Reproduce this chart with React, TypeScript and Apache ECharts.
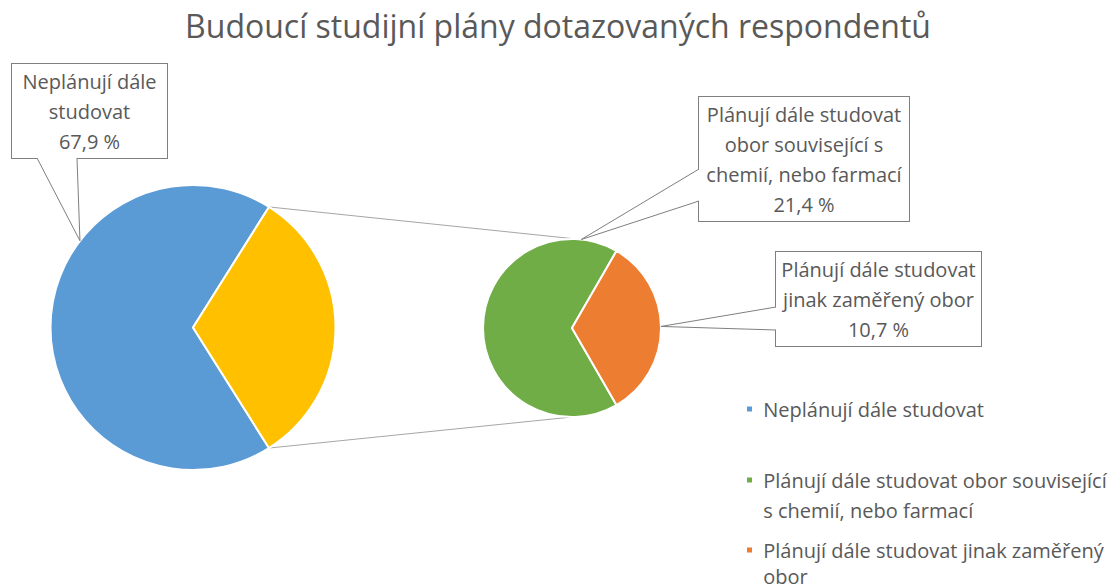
import React, { useEffect, useRef } from "react";
import * as echarts from "echarts";

const TITLE = "Budoucí studijní plány dotazovaných respondentů";

// main pie
const mainNames = ["Neplánují dále studovat", "Plánují dále studovat"];
// secondary pie (breakdown of "Plánují dále studovat")
const subNames = [
  "Plánují dále studovat obor související s chemií, nebo farmací",
  "Plánují dále studovat jinak zaměřený obor",
];
const mainValue = [67.9];
const subValues = [21.4, 10.7];

// label texts (line breaks as in the reference)
const mainLabelText = ["Neplánují dále\nstudovat"];
const subLabelText = [
  "Plánují dále studovat\nobor související s\nchemií, nebo farmací",
  "Plánují dále studovat\njinak zaměřený obor",
];
// legend texts
const legendText = [
  "Neplánují dále studovat",
  "Plánují dále studovat obor související\ns chemií, nebo farmací",
  "Plánují dále studovat jinak zaměřený\nobor",
];

const COLORS = {
  blue: "#5B9BD5",
  yellow: "#FFC000",
  green: "#70AD47",
  orange: "#ED7D31",
};
const TEXT = "#595959";
const FONT = "'Open Sans', Lato, sans-serif";
const FS = 20;

// geometry
const C1 = [193, 327.5];
const R1 = 142.5;
const C2 = [572, 328];
const R2 = 89;

const fmt = (v: number) => v.toFixed(1).replace(".", ",") + " %";

function pt(c: number[], r: number, deg: number): number[] {
  const a = (deg * Math.PI) / 180;
  return [c[0] + r * Math.cos(a), c[1] - r * Math.sin(a)];
}

export default function App() {
  const ref = useRef<HTMLDivElement>(null);
  useEffect(() => {
    if (!ref.current) return;
    const chart = echarts.init(ref.current, undefined, { renderer: "svg" });

    const otherValue = subValues.reduce((a, b) => a + b, 0);
    const total = mainValue[0] + otherValue;
    const b = mainValue[0] / total;
    const y = otherValue / total;
    const mainStart = 360 * b + 180 * y;
    const subTotal = otherValue;
    const g = subValues[0] / subTotal;
    const o = subValues[1] / subTotal;
    const subStart = 360 * g + 180 * o;

    const half = 180 * y;
    const splitTop = pt(C1, R1, half);
    const splitBot = pt(C1, R1, -half);
    const subTop = pt(C2, R2, 86);
    const subBot = pt(C2, R2, -90);

    const lineStyle = { stroke: "#A6A6A6", lineWidth: 1, fill: null };
    const calloutStyle = { stroke: "#7F7F7F", lineWidth: 1, fill: "#fff" };

    const mainBox = { x: 12, y: 64, w: 155 };
    const subBoxes = [
      { x: 699, y: 97, w: 210 },
      { x: 776, y: 252, w: 205 },
    ];

    const labelBase = {
      show: true,
      color: TEXT,
      fontFamily: FONT,
      fontSize: FS,
      lineHeight: 30,
      align: "center",
      backgroundColor: "#fff",
      borderColor: "#7F7F7F",
      borderWidth: 1,
      padding: [2, 0, 2, 0],
    };

    const legendBase = {
      orient: "vertical",
      left: 745,
      padding: 0,
      icon: "rect",
      itemWidth: 7,
      itemHeight: 7,
      selectedMode: false,
    };
    const legendTextStyle = (lh: number) => ({
      color: TEXT,
      fontFamily: FONT,
      fontSize: FS,
      lineHeight: lh,
    });

    chart.setOption({
      animation: false,
      backgroundColor: "#fff",
      title: {
        text: TITLE,
        left: "center",
        top: 4,
        textStyle: {
          color: TEXT,
          fontFamily: FONT,
          fontSize: 32,
          fontWeight: "normal",
        },
      },
      legend: [
        {
          ...legendBase,
          top: 394,
          data: [mainNames[0]],
          formatter: () => " " + legendText[0],
          textStyle: legendTextStyle(30),
        },
        {
          ...legendBase,
          top: 435,
          data: [subNames[0]],
          formatter: () => "\n " + legendText[1].replace("\n", "\n "),
          textStyle: legendTextStyle(30),
        },
        {
          ...legendBase,
          top: 511,
          data: [subNames[1]],
          formatter: () => "\n " + legendText[2].replace("\n", "\n "),
          textStyle: legendTextStyle(26),
        },
      ],
      graphic: [
        { type: "line", shape: { x1: splitTop[0], y1: splitTop[1], x2: subTop[0], y2: subTop[1] }, style: lineStyle, z: 1 },
        { type: "line", shape: { x1: splitBot[0], y1: splitBot[1], x2: subBot[0], y2: subBot[1] }, style: lineStyle, z: 1 },
        {
          type: "polyline",
          shape: { points: [[37, 158], pt(C1, R1, 142.5), [77, 158]] },
          style: calloutStyle,
          z: 100,
        },
        {
          type: "polyline",
          shape: { points: [[699, 169], pt(C2, R2, 84), [699, 201]] },
          style: calloutStyle,
          z: 100,
        },
        {
          type: "polyline",
          shape: { points: [[776, 307], pt(C2, R2, 1), [776, 330]] },
          style: calloutStyle,
          z: 100,
        },
      ],
      series: [
        {
          type: "pie",
          center: C1,
          radius: R1,
          startAngle: mainStart,
          clockwise: true,
          avoidLabelOverlap: false,
          itemStyle: { borderColor: "#fff", borderWidth: 2 },
          emphasis: { disabled: true },
          labelLine: { show: false },
          label: {
            ...labelBase,
            width: mainBox.w,
            formatter: (p: any) => mainLabelText[p.dataIndex] + "\n" + fmt(p.value),
          },
          labelLayout: (p: any) =>
            p.dataIndex === 0
              ? { x: mainBox.x + mainBox.w / 2, y: mainBox.y, align: "center", verticalAlign: "top" }
              : {},
          data: [
            { name: mainNames[0], value: mainValue[0], itemStyle: { color: COLORS.blue } },
            { name: mainNames[1], value: otherValue, itemStyle: { color: COLORS.yellow }, label: { show: false } },
          ],
          z: 2,
        },
        {
          type: "pie",
          center: C2,
          radius: R2,
          startAngle: subStart,
          clockwise: true,
          avoidLabelOverlap: false,
          itemStyle: { borderColor: "#fff", borderWidth: 2 },
          emphasis: { disabled: true },
          labelLine: { show: false },
          label: {
            ...labelBase,
            formatter: (p: any) => subLabelText[p.dataIndex] + "\n" + fmt(p.value),
          },
          labelLayout: (p: any) => {
            const bx = subBoxes[p.dataIndex];
            return { x: bx.x + bx.w / 2, y: bx.y, align: "center", verticalAlign: "top", width: bx.w };
          },
          data: [
            { name: subNames[0], value: subValues[0], itemStyle: { color: COLORS.green }, label: { width: subBoxes[0].w } },
            { name: subNames[1], value: subValues[1], itemStyle: { color: COLORS.orange }, label: { width: subBoxes[1].w } },
          ],
          z: 2,
        },
      ],
    });
    return () => chart.dispose();
  }, []);
  return (
    <div
      ref={ref}
      style={{ position: "absolute", left: 0, top: 0, width: 1116, height: 588 }}
    />
  );
}
